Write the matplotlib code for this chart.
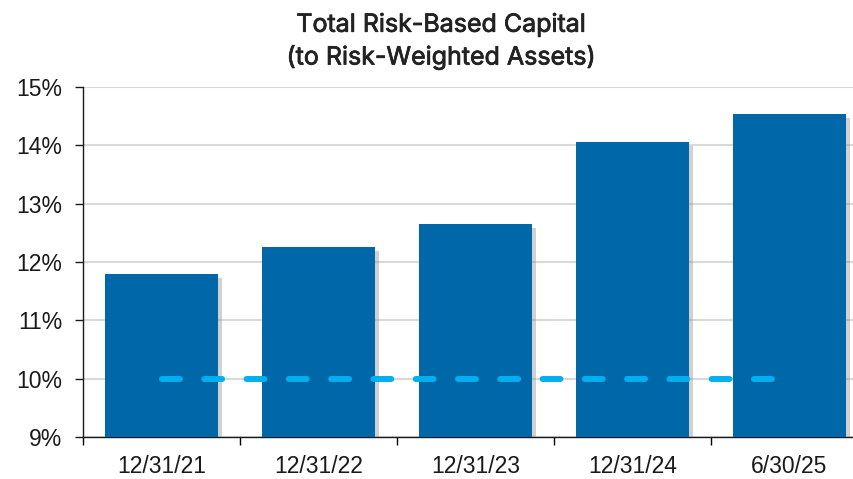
"""Total risk-based capital ratio, bar chart with 10% well-capitalized line."""

import matplotlib
import matplotlib.pyplot as plt
import matplotlib.patheffects as pe
import numpy as np
from matplotlib.ticker import FixedLocator, FuncFormatter

matplotlib.rcParams["font.family"] = "Liberation Sans"

CATEGORIES = ["12/31/21", "12/31/22", "12/31/23", "12/31/24", "6/30/25"]
RATIO = [11.79, 12.26, 12.65, 14.06, 14.54]
THRESHOLD = [10.0, 10.0, 10.0, 10.0, 10.0]
Y_TICKS = [9, 10, 11, 12, 13, 14, 15]

BAR_COLOR = "#0068A9"
LINE_COLOR = "#00B0F0"
GRID_COLOR = "#D9D9D9"
TITLE_COLOR = "#222222"


def main() -> None:
    fig = plt.figure(figsize=(8.54, 4.79), dpi=100)
    # axes extend past the right edge, as in the source slide
    ax = fig.add_axes([83 / 854, 42 / 479, 785 / 854, 350 / 479])

    x = np.arange(len(CATEGORIES))
    bars = ax.bar(x, RATIO, width=0.715, bottom=0, color=BAR_COLOR, zorder=3)
    for b in bars:
        b.set_path_effects([
            pe.SimplePatchShadow(offset=(3, -3), shadow_rgbFace="#8C8C8C", alpha=0.4),
            pe.Normal(),
        ])

    ax.plot(x, THRESHOLD, color=LINE_COLOR, linewidth=4.3,
            dashes=(3.0, 4.08), dash_capstyle="round", zorder=4)

    ax.set_ylim(9, 15)
    ax.set_xlim(-0.5, 4.5)
    ax.yaxis.set_major_locator(FixedLocator(Y_TICKS))
    ax.yaxis.set_major_formatter(FuncFormatter(lambda v, _: f"{v:.0f}%"))
    ax.grid(True, axis="y", color=GRID_COLOR, linewidth=1.5, zorder=0)
    ax.set_axisbelow(True)

    ax.set_xticks(x)
    ax.set_xticklabels(CATEGORIES)
    ax.set_xticks(np.arange(len(CATEGORIES) + 1) - 0.5, minor=True)
    ax.tick_params(axis="x", which="major", length=0, labelsize=16.5, pad=13,
                   colors="#1A1A1A")
    ax.tick_params(axis="x", which="minor", length=6, width=1, direction="out")
    ax.tick_params(axis="y", length=6, width=1, labelsize=16.5, pad=9,
                   colors="#1A1A1A")

    for side in ("top", "right"):
        ax.spines[side].set_visible(False)
    for side in ("left", "bottom"):
        ax.spines[side].set_linewidth(1)
        ax.spines[side].set_color("#1A1A1A")

    # medium-weight look: regular Inter with a thin stroke
    medium = [pe.withStroke(linewidth=0.55, foreground=TITLE_COLOR)]
    fig.text(441 / 854, 1 - 25 / 479, "Total Risk-Based Capital",
             ha="center", va="center", fontsize=18, family="Inter",
             color=TITLE_COLOR, path_effects=medium)
    fig.text(441 / 854, 1 - 57 / 479, "(to Risk-Weighted Assets)",
             ha="center", va="center", fontsize=18, family="Inter",
             color=TITLE_COLOR, path_effects=medium)

    fig.savefig("out.png", dpi=100)
    plt.close(fig)


if __name__ == "__main__":
    main()
